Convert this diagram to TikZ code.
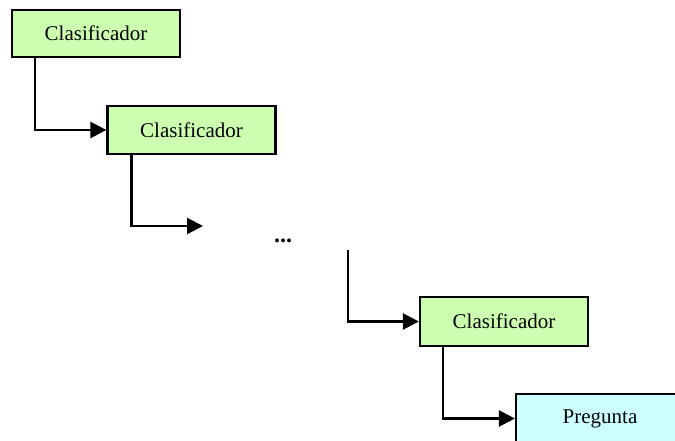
\documentclass[tikz,border=0pt]{standalone}
\usepackage{fontspec}
\setmainfont{Liberation Serif}
\usetikzlibrary{arrows.meta}
\definecolor{boxgreen}{RGB}{204,255,176}
\definecolor{boxcyan}{RGB}{204,255,255}
\tikzset{
  clsbox/.style={draw=black, line width=2.2pt, fill=boxgreen, minimum width=168pt, minimum height=47pt, inner sep=0pt, font=\fontsize{21}{24}\selectfont},
  qbox/.style={clsbox, fill=boxcyan, minimum height=49pt},
  conn/.style={line width=2.4pt, -{Triangle[length=16pt,width=16pt]}}
}
\begin{document}
\begin{tikzpicture}[x=1pt,y=-1pt]
\useasboundingbox (0,0) rectangle (675,441);
\clip (0,0) rectangle (675,441);
\node[clsbox] (c1) at (96,33.5) {Clasificador};
\node[clsbox, minimum height=48pt] (c2) at (191.5,130) {Clasificador};
\node[font=\fontsize{24}{26}\selectfont\bfseries] (dots) at (283,241) {...};
\node[clsbox, minimum height=49pt] (c3) at (504,321.5) {Clasificador};
\node[qbox] (q) at (600,418.5) {Pregunta};
\coordinate (e2) at (203,226);
\coordinate (s3) at (348,250);
\draw[conn] ([xshift=24pt]c1.south west) |- (c2.west);
\draw[conn] ([xshift=25pt]c2.south west) |- (e2);
\draw[conn] (s3) |- (c3.west);
\draw[conn] ([xshift=24pt]c3.south west) |- (q.west);
\end{tikzpicture}
\end{document}
